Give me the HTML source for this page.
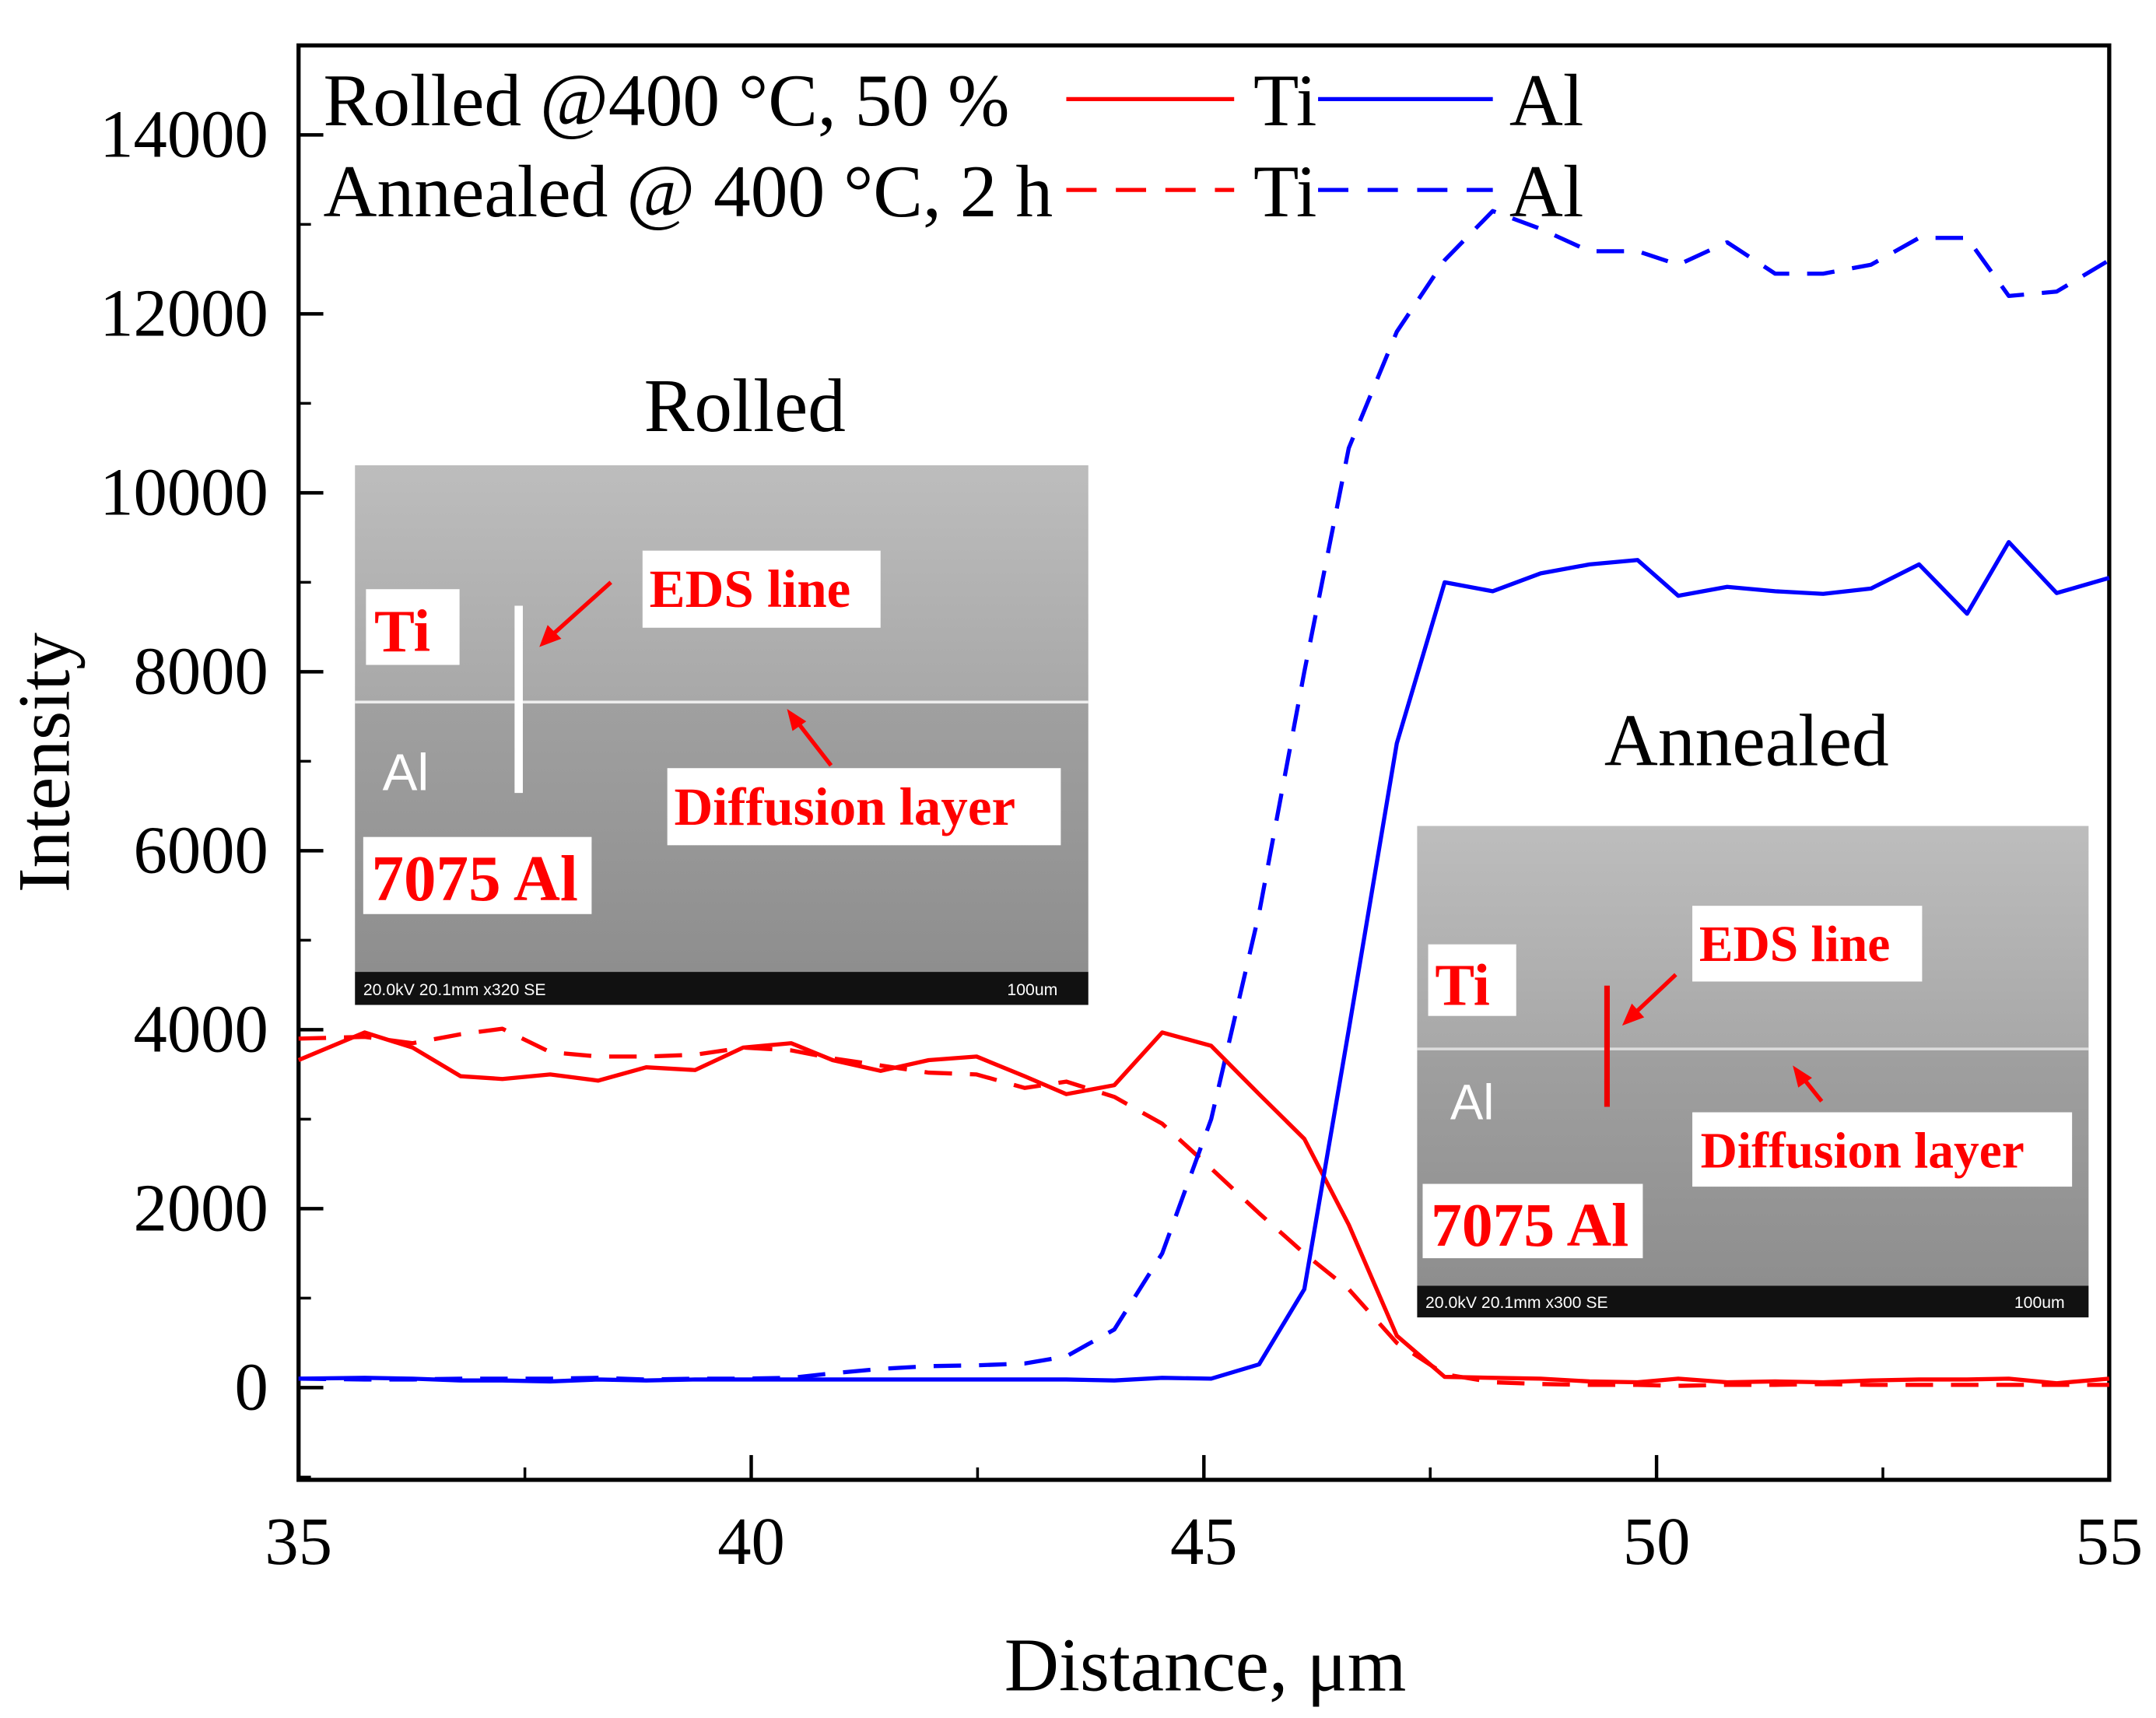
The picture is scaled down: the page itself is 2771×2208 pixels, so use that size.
<!DOCTYPE html>
<html><head><meta charset="utf-8"><style>html,body{margin:0;padding:0;background:#fff}svg{display:block}</style></head>
<body>
<svg id="chart" width="2771" height="2208" viewBox="0 0 1567 1248" preserveAspectRatio="none" xmlns="http://www.w3.org/2000/svg" font-family="Liberation Serif, serif">
<rect width="1567" height="1248" fill="#fff"/>
<defs>
<linearGradient id="semTop" x1="0" y1="0" x2="0" y2="1"><stop offset="0" stop-color="#bdbdbd"/><stop offset="1" stop-color="#a8a8a8"/></linearGradient>
<linearGradient id="semBot" x1="0" y1="0" x2="0" y2="1"><stop offset="0" stop-color="#a0a0a0"/><stop offset="1" stop-color="#8e8e8e"/></linearGradient>
</defs>
<g id="axes"></g>
<g id="series"></g>
<g id="insets">
 <g>
  <rect x="258" y="338" width="533" height="172" fill="url(#semTop)"/>
  <rect x="258" y="510" width="533" height="196" fill="url(#semBot)"/>
  <line x1="258" y1="510" x2="791" y2="510" stroke="#eee" stroke-width="2"/>
  <rect x="258" y="706" width="533" height="24" fill="#111"/>
  <text x="264" y="723" font-family="Liberation Sans, sans-serif" font-size="12" fill="#fff">20.0kV 20.1mm x320 SE</text>
  <text x="732" y="723" font-family="Liberation Sans, sans-serif" font-size="12" fill="#fff">100um</text>
  <line x1="377" y1="440" x2="377" y2="576" stroke="#fff" stroke-width="6"/>
  <rect x="266" y="428" width="68" height="55" fill="#fff"/><text x="272" y="473" font-size="44" font-weight="bold" fill="#f00">Ti</text>
  <text x="278" y="574" font-family="Liberation Sans, sans-serif" font-size="38" fill="#fff">Al</text>
  <rect x="467" y="400" width="173" height="56" fill="#fff"/><text x="472" y="441" font-size="39" font-weight="bold" fill="#f00">EDS line</text>
  <line x1="444" y1="423" x2="396" y2="466" stroke="#f00" stroke-width="3"/><polygon points="392,470 398,454 408,464" fill="#f00"/>
  <rect x="485" y="558" width="286" height="56" fill="#fff"/><text x="490" y="599" font-size="39" font-weight="bold" fill="#f00">Diffusion layer</text>
  <line x1="604" y1="556" x2="576" y2="520" stroke="#f00" stroke-width="3"/><polygon points="572,515 586,524 576,531" fill="#f00"/>
  <rect x="264" y="608" width="166" height="56" fill="#fff"/><text x="270" y="654" font-size="47" font-weight="bold" fill="#f00">7075 Al</text>
 </g>
 <g>
  <rect x="1030" y="600" width="488" height="162" fill="url(#semTop)"/>
  <rect x="1030" y="762" width="488" height="172" fill="url(#semBot)"/>
  <line x1="1030" y1="762" x2="1518" y2="762" stroke="#ddd" stroke-width="2"/>
  <rect x="1030" y="934" width="488" height="23" fill="#111"/>
  <text x="1036" y="950" font-family="Liberation Sans, sans-serif" font-size="12" fill="#fff">20.0kV 20.1mm x300 SE</text>
  <text x="1464" y="950" font-family="Liberation Sans, sans-serif" font-size="12" fill="#fff">100um</text>
  <line x1="1168" y1="716" x2="1168" y2="804" stroke="#e00" stroke-width="4"/>
  <rect x="1038" y="686" width="64" height="52" fill="#fff"/><text x="1043" y="730" font-size="43" font-weight="bold" fill="#f00">Ti</text>
  <text x="1054" y="813" font-family="Liberation Sans, sans-serif" font-size="36" fill="#fff">Al</text>
  <rect x="1230" y="658" width="167" height="55" fill="#fff"/><text x="1235" y="698" font-size="37" font-weight="bold" fill="#f00">EDS line</text>
  <line x1="1218" y1="708" x2="1184" y2="740" stroke="#f00" stroke-width="3"/><polygon points="1179,745 1186,729 1195,739" fill="#f00"/>
  <rect x="1230" y="808" width="276" height="54" fill="#fff"/><text x="1236" y="848" font-size="37" font-weight="bold" fill="#f00">Diffusion layer</text>
  <line x1="1324" y1="800" x2="1308" y2="780" stroke="#f00" stroke-width="3"/><polygon points="1303,774 1317,783 1307,790" fill="#f00"/>
  <rect x="1034" y="860" width="160" height="54" fill="#fff"/><text x="1040" y="905" font-size="45" font-weight="bold" fill="#f00">7075 Al</text>
 </g>
 <text x="468" y="313" font-size="55">Rolled</text>
 <text x="1166" y="556" font-size="54">Annealed</text>
</g>
<g id="legend">
 <text x="235" y="91" font-size="54">Rolled @400 °C, 50 %</text>
 <line x1="775" y1="72" x2="897" y2="72" stroke="#f00" stroke-width="3"/>
 <text x="911" y="91" font-size="54">Ti</text>
 <line x1="958" y1="72" x2="1085" y2="72" stroke="#00f" stroke-width="3"/>
 <text x="1097" y="91" font-size="54">Al</text>
 <text x="235" y="157" font-size="54">Annealed @ 400 °C, 2 h</text>
 <line x1="775" y1="138" x2="897" y2="138" stroke="#f00" stroke-width="3" stroke-dasharray="22,14"/>
 <text x="911" y="157" font-size="54">Ti</text>
 <line x1="958" y1="138" x2="1085" y2="138" stroke="#00f" stroke-width="3" stroke-dasharray="22,14"/>
 <text x="1097" y="157" font-size="54">Al</text>
</g>
<text transform="translate(50,554) rotate(-90)" text-anchor="middle" font-size="54">Intensity</text>
<text x="876" y="1228" text-anchor="middle" font-size="55">Distance, μm</text>
</svg>
<script>
const xVals = [35,35.73,36.26,36.79,37.25,37.78,38.31,38.84,39.38,39.91,40.44,40.9,41.43,41.96,42.49,43.02,43.48,44.01,44.54,45.08,45.61,46.11,46.6,47.13,47.66,48.19,48.72,49.26,49.79,50.24,50.78,51.31,51.84,52.37,52.9,53.43,53.89,54.42,55];
const tiRolled = [3660,3970,3800,3480,3450,3500,3430,3580,3550,3800,3850,3660,3540,3660,3700,3480,3280,3380,3970,3820,3280,2780,1820,580,120,110,100,70,60,100,60,70,60,80,90,90,100,50,100];
const alRolled = [100,110,100,80,80,70,90,80,90,90,90,90,90,90,90,90,90,80,110,100,260,1100,4000,7200,9000,8900,9100,9200,9250,8850,8950,8900,8870,8930,9200,8650,9450,8880,9050];
const tiAnnealed = [3900,3920,3850,3950,4010,3750,3700,3700,3720,3800,3770,3680,3600,3520,3500,3350,3420,3250,2950,2450,1950,1500,1100,500,150,60,40,30,30,20,30,30,40,30,30,30,30,30,30];
const alAnnealed = [100,90,90,100,100,100,110,90,100,100,110,160,210,240,250,270,350,650,1500,3000,5300,8000,10500,11800,12600,13150,12950,12700,12700,12550,12800,12450,12450,12550,12850,12850,12200,12250,12600];
const xTicks = [35,40,45,50,55];
const yTicks = [0,2000,4000,6000,8000,10000,12000,14000];

const L=217,R=1533,T=33,B=1075, XMIN=35,XMAX=55;
const sx=v=>L+(v-XMIN)/(XMAX-XMIN)*(R-L);
const sy=v=>1008-v*0.065;
const NS='http://www.w3.org/2000/svg';
function mk(tag,attrs,parent){const e=document.createElementNS(NS,tag);for(const k in attrs)e.setAttribute(k,attrs[k]);parent.appendChild(e);return e;}
const axes=document.getElementById('axes'), series=document.getElementById('series');
const frame=mk('rect',{x:L,y:T,width:R-L,height:B-T,fill:'none',stroke:'#000','stroke-width':3},axes);


xTicks.forEach((t,i)=>{
  const x=sx(t);
  const tk=mk('line',{x1:x,y1:B,x2:x,y2:B-18,stroke:'#000','stroke-width':2.5},axes);
  
  
  if(i<xTicks.length-1){const m=sx(t+2.5);const mt=mk('line',{x1:m,y1:B,x2:m,y2:B-9,stroke:'#000','stroke-width':2},axes);
    
    }
  const lb=mk('text',{x:x,y:1136,'text-anchor':'middle','font-size':49},axes);lb.textContent=t;
  
  
});
yTicks.forEach(t=>{
  const y=sy(t);
  const tk=mk('line',{x1:L,y1:y,x2:L+18,y2:y,stroke:'#000','stroke-width':2.5},axes);
  
  
  const lb=mk('text',{x:195,y:y+16,'text-anchor':'end','font-size':49},axes);lb.textContent=t;
  
  
});
[-1000,1000,3000,5000,7000,9000,11000,13000].forEach(t=>{
  const y=sy(t); if(y>B||y<T) return;
  const mt=mk('line',{x1:L,y1:y,x2:L+9,y2:y,stroke:'#000','stroke-width':2},axes);
  
  
});
function line(vals,color,dash,name){
  const d=vals.map((v,i)=>(i?'L':'M')+sx(xVals[i]).toFixed(1)+','+sy(v).toFixed(1)).join(' ');
  const p=mk('path',{d:d,fill:'none',stroke:color,'stroke-width':3,'stroke-linejoin':'round'},series);
  if(dash)p.setAttribute('stroke-dasharray','20,13');
  
  
}
line(tiAnnealed,'#f00',true,'ti-annealed-line');
line(alAnnealed,'#00f',true,'al-annealed-line');
line(tiRolled,'#f00',false,'ti-rolled-line');
line(alRolled,'#00f',false,'al-rolled-line');
</script>
</body></html>
